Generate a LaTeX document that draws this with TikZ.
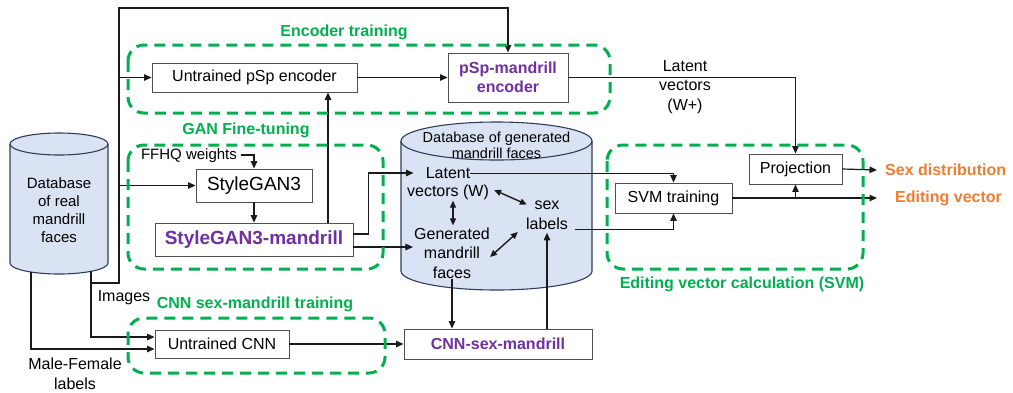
\documentclass[tikz,border=0pt]{standalone}
\usepackage{fontspec}
\setmainfont{Liberation Sans}
\usetikzlibrary{arrows.meta,calc}

\definecolor{grpgreen}{HTML}{00B050}
\definecolor{modelpurple}{HTML}{7030A0}
\definecolor{outorange}{HTML}{ED7D31}
\definecolor{dbfill}{HTML}{DAE3F3}
\definecolor{dbline}{HTML}{2F3C5A}
\definecolor{boxline}{HTML}{505050}
\definecolor{wire}{HTML}{1A1A1A}

\newcommand\fsDb{\fontsize{15pt}{18pt}\selectfont}
\newcommand\fsGen{\fontsize{14.5pt}{16pt}\selectfont}
\newcommand\fsMain{\fontsize{16pt}{19.5pt}\selectfont}
\newcommand\fsBig{\fontsize{19pt}{22pt}\selectfont}
\newcommand\bfMain{\fontsize{16pt}{19pt}\selectfont\bfseries}
\newcommand\bfBig{\fontsize{19pt}{22pt}\selectfont\bfseries}

\begin{document}
\begin{tikzpicture}[x=1pt,y=-1pt,
  procbox/.style={draw=boxline, line width=0.9pt, fill=white, inner sep=0pt, font=\fsMain},
  modelbox/.style={procbox, text=modelpurple, font=\bfMain, align=center},
  lbl/.style={inner sep=0pt, font=\fsMain, align=center},
  outlbl/.style={inner sep=0pt, anchor=west, font=\bfMain, text=outorange},
  grptitle/.style={inner sep=0pt, font=\bfMain, text=grpgreen},
  grpframe/.style={draw=grpgreen, line width=3pt, dash pattern=on 11pt off 7pt, rounded corners=16pt},
  arr/.style={draw=wire, line width=1.2pt, -{Triangle[length=7.5pt,width=6.5pt]}},
  darr/.style={draw=wire, line width=1.4pt, {Triangle[length=7pt,width=6pt]}-{Triangle[length=7pt,width=6pt]}},
  thinarr/.style={draw=wire, line width=1pt, -{Triangle[length=7.5pt,width=6.5pt]}}
]
\useasboundingbox[fill=white] (0,0) rectangle (1013,392);

% database of real faces (cylinder)
\fill[dbfill] (10,144) -- (10,263) arc[start angle=180,end angle=360,x radius=49pt,y radius=11pt]
  -- (108,144) arc[start angle=0,end angle=180,x radius=49pt,y radius=11pt] -- cycle;
\draw[dbline, line width=1.1pt] (10,144) -- (10,263) arc[start angle=180,end angle=360,x radius=49pt,y radius=11pt] -- (108,144);
\draw[dbline, line width=1.1pt] (59,144) ellipse[x radius=49pt,y radius=11pt];
\node[lbl, font=\fsDb, minimum width=98pt, minimum height=128pt] (realdb) at (59,210)
  {Database\\of real\\mandrill\\faces};

% database of generated faces (cylinder)
\fill[dbfill] (401,141) -- (401,271) arc[start angle=180,end angle=360,x radius=95.5pt,y radius=19pt]
  -- (592,141) arc[start angle=0,end angle=180,x radius=95.5pt,y radius=19pt] -- cycle;
\draw[dbline, line width=1.1pt] (401,141) -- (401,271) arc[start angle=180,end angle=360,x radius=95.5pt,y radius=19pt] -- (592,141);
\draw[dbline, line width=1.1pt] (496.5,141) ellipse[x radius=95.5pt,y radius=19pt];
\node[lbl, font=\fsGen] (gendb) at (496.5,145) {Database of generated\\mandrill faces};

% processing blocks
\node[procbox, minimum width=205pt, minimum height=29pt] (upsp) at (254.5,77.5) {Untrained pSp encoder};
\node[modelbox, minimum width=120pt, minimum height=49pt] (psp) at (508,77.5) {pSp-mandrill\\encoder};
\node[procbox, font=\fsBig, minimum width=116pt, minimum height=33pt] (sg3) at (254,185.5) {StyleGAN3};
\node[modelbox, font=\bfBig, minimum width=198pt, minimum height=33pt] (sg3m) at (254,239.5) {StyleGAN3-mandrill};
\node[procbox, minimum width=134pt, minimum height=28pt] (ucnn) at (222,344) {Untrained CNN};
\node[modelbox, minimum width=188pt, minimum height=30pt] (cnnm) at (498,344) {CNN-sex-mandrill};
\node[procbox, minimum width=117pt, minimum height=30pt] (svm) at (673.5,198) {SVM training};
\node[procbox, minimum width=93pt, minimum height=30pt] (proj) at (795.5,169) {Projection};

% free labels
\node[lbl, font=\fsDb] (ffhq) at (189,156) {FFHQ weights};
\node[lbl] (latA) at (448,173) {Latent};
\node[lbl] (latB) at (448,192) {vectors (W)};
\node[lbl] (gen) at (452,253) {Generated\\mandrill\\faces};
\node[lbl] (sex) at (547,215.5) {sex\\labels};
\node[lbl] (wplus) at (685,87) {Latent\\vectors\\(W+)};
\node[lbl] (imgs) at (124,298) {Images};
\node[lbl] (mflab) at (75,374) {Male-Female\\labels};
\node[outlbl] (sexd) at (885,170) {Sex distribution};
\node[outlbl] (edv) at (895,198) {Editing vector};

% image feed from the real database
\coordinate (ji) at (91,283);
\coordinate (jt) at (119,8);
\draw[arr] ([xshift=32pt,yshift=3pt]realdb.south) |- ([yshift=7pt]ucnn.west);
\draw[arr] (ji) -| (jt) -| (psp.north);
\draw[arr] (jt |- upsp.west) -- (upsp.west);
\draw[arr] (jt |- sg3.west) -- (sg3.west);
\draw[arr] ([xshift=-28pt,yshift=2pt]realdb.south) |- ([yshift=-5pt]ucnn.west);

% encoder and GAN flow
\draw[arr] (upsp.east) -- (psp.west);
\draw[arr] (psp.east) -| (proj.north);
\draw[arr] ([xshift=4pt,yshift=1pt]ffhq.east) -| (sg3.north);
\draw[arr] (sg3.south) -- (sg3m.north);
\draw[arr] ([xshift=74pt]sg3m.north) -- ([xshift=74pt]sg3m.north |- upsp.south);
\draw[arr] ([yshift=5.5pt]sg3m.east) -- ++(15,0) |- ([xshift=-12pt]latA.west);
\draw[arr] ([yshift=-7.5pt]sg3m.east) -- ([yshift=-7.5pt,xshift=-1pt]sg3m.east -| gen.west);

% relations inside the generated database
\draw[darr] ([xshift=5pt,yshift=-1pt]latB.south) -- ([xshift=1pt,yshift=2pt]gen.north);
\draw[darr] ([xshift=5pt,yshift=2pt]latB.east) -- ([yshift=11pt,xshift=1pt]sex.west);
\draw[darr] ([xshift=38pt,yshift=-4pt]gen.center) -- ([xshift=-8pt,yshift=-16.5pt]sex.west);

% CNN branch
\draw[arr] (gen.south) -- (gen.south |- cnnm.north);
\draw[arr] (sex.south |- cnnm.north) -- ([yshift=-3pt]sex.south);
\draw[arr] (ucnn.east) -- (cnnm.west);

% SVM and outputs
\draw[thinarr] (latA.east) -| (svm.north);
\draw[arr] ([xshift=7pt,yshift=-14pt]sex.east) -| (svm.south);
\draw[arr] (svm.east) -- ([xshift=-18pt]edv.west);
\draw[arr] (proj.south |- svm.east) -- (proj.south);
\draw[arr] (proj.east) -- ([xshift=-8pt]sexd.west);

% stage frames
\draw[grpframe] (128,45) rectangle (610,113);
\draw[grpframe] (128,145) rectangle (383,269);
\draw[grpframe] (128,318) rectangle (385,373);
\draw[grpframe] (607,145) rectangle (863,269);
\node[grptitle] (t1) at (344,32) {Encoder training};
\node[grptitle] (t2) at (246,130) {GAN Fine-tuning};
\node[grptitle] (t3) at (255,304) {CNN sex-mandrill training};
\node[grptitle] (t4) at (742,284) {Editing vector calculation (SVM)};
\end{tikzpicture}
\end{document}
